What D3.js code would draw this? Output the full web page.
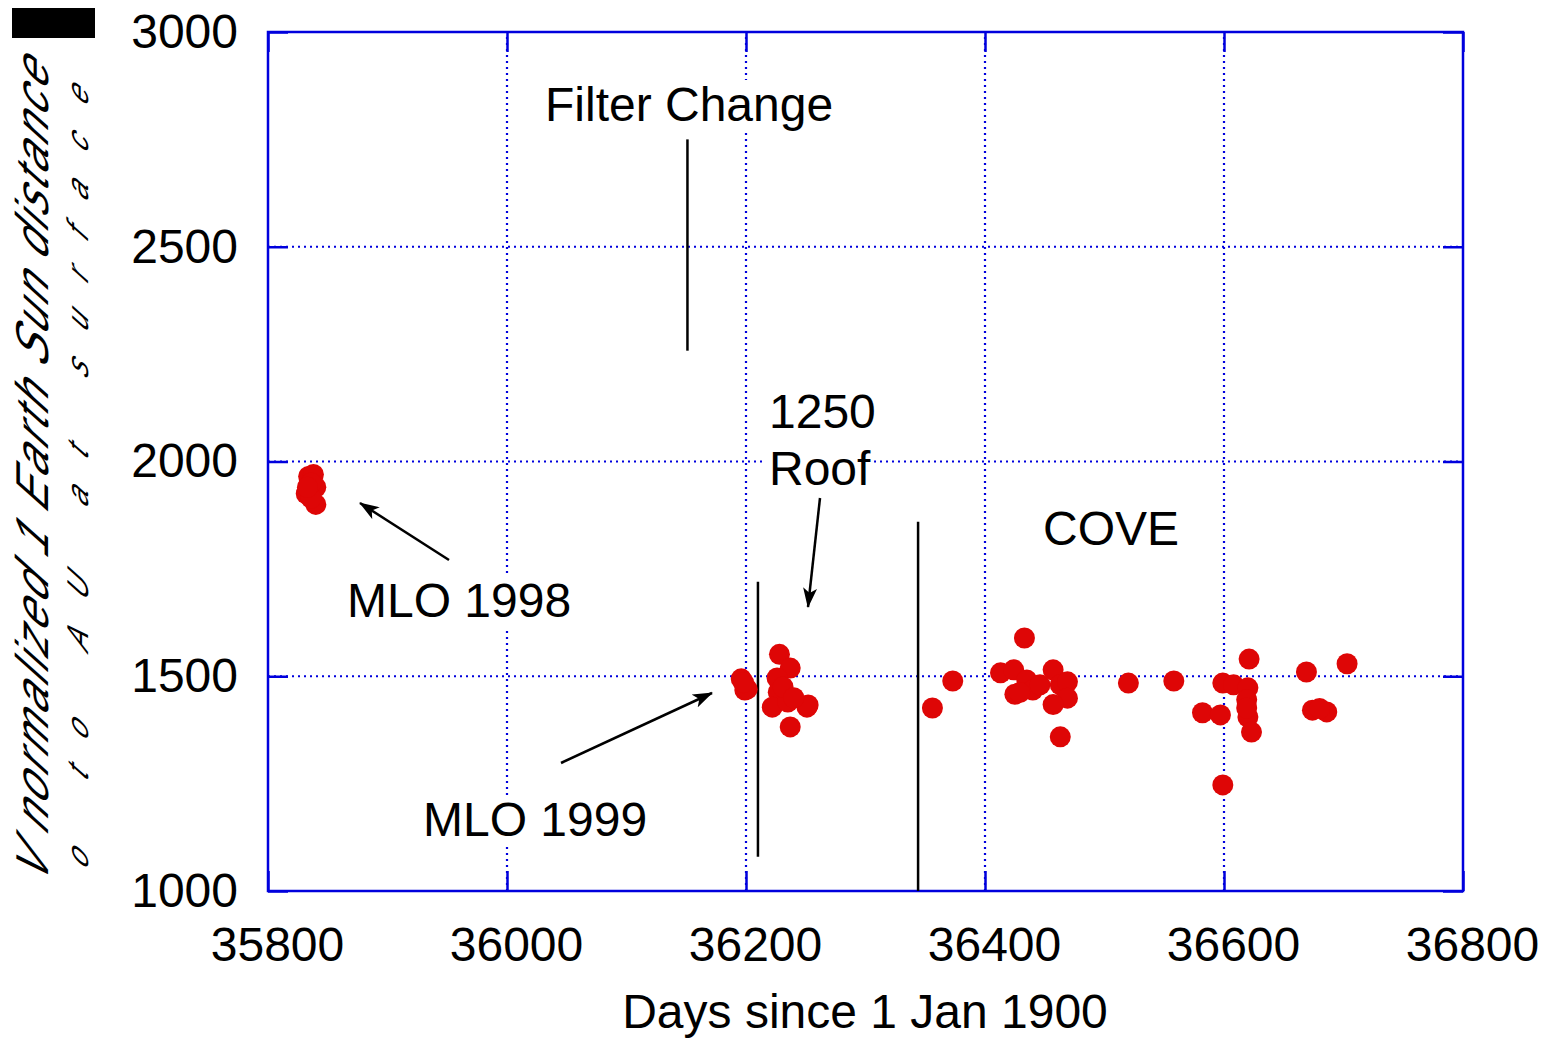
<!DOCTYPE html>
<html>
<head>
<meta charset="utf-8">
<script src="https://cdn.jsdelivr.net/npm/d3@7"></script>
<style>
  body { margin: 0; background: #fff; }
  text { font-family: "Liberation Sans", Arial, sans-serif; }
</style>
</head>
<body>
<svg id="chart"></svg>
<script>
// data
var xTicks = [35800, 36000, 36200, 36400, 36600, 36800];
var yTicks = [1000, 1500, 2000, 2500, 3000];

var mloDays1998 = [35834, 35838, 35832, 35840, 35840, 35836, 35836, 35833];
var mloVals1998 = [1965, 1970, 1925, 1940, 1900, 1915, 1950, 1940];

var mloDays1999 = [36196, 36199, 36201, 36198];
var mloVals1999 = [1494, 1468, 1470, 1485];

var roofDays = [36228, 36237, 36226, 36227, 36222, 36237, 36251, 36235, 36252, 36231, 36240];
var roofVals = [1551, 1519, 1496, 1463, 1428, 1382, 1428, 1440, 1433, 1475, 1450];

var coveDays = [36356, 36373, 36433, 36413, 36424, 36425, 36435, 36440, 36446, 36457, 36463,
                36469, 36469, 36457, 36463, 36429, 36520, 36558, 36621, 36599, 36608, 36620,
                36619, 36582, 36597, 36620, 36623, 36599, 36669, 36703, 36674, 36686, 36619, 36680];
var coveVals = [1426, 1489, 1589, 1508, 1515, 1458, 1491, 1468, 1480, 1515, 1480,
                1487, 1449, 1434, 1359, 1462, 1484, 1489, 1540, 1484, 1480, 1473,
                1445, 1415, 1410, 1405, 1370, 1247, 1510, 1529, 1421, 1417, 1426, 1425];

// event markers: [day, top value, bottom value]
var markerDays = [36151, 36210, 36344];
var markerTops = [2750, 1720, 1860];
var markerBots = [2258, 1080, 1000];

var width = 1551,
    height = 1039;
var margin = {left: 268, right: 88, top: 32, bottom: 148};

var svg = d3.select("#chart")
    .attr("width", width)
    .attr("height", height);

var x = d3.scaleLinear().domain([35800, 36800]).range([margin.left, width - margin.right]);
var y = d3.scaleLinear().domain([1000, 3000]).range([height - margin.bottom, margin.top]);

var blue = "#0000dd";
var fs = 48;

// grid
svg.append("g").selectAll("line.gx")
    .data(xTicks.slice(1, -1))
    .enter().append("line")
    .attr("x1", function(d){ return x(d); })
    .attr("x2", function(d){ return x(d); })
    .attr("y1", y(1000))
    .attr("y2", y(3000))
    .attr("stroke", blue)
    .attr("stroke-width", 2.2)
    .attr("stroke-dasharray", "2,4");

svg.append("g").selectAll("line.gy")
    .data(yTicks.slice(1, -1))
    .enter().append("line")
    .attr("x1", x(35800))
    .attr("x2", x(36800))
    .attr("y1", function(d){ return y(d); })
    .attr("y2", function(d){ return y(d); })
    .attr("stroke", blue)
    .attr("stroke-width", 2.2)
    .attr("stroke-dasharray", "2,4");

// labels (opaque, they hide the grid)
var labels = [
    ["Filter Change", 545, 121],
    ["1250", 769, 428],
    ["Roof", 769, 485],
    ["MLO 1998", 347, 617],
    ["MLO 1999", 423, 836],
    ["COVE", 1043, 545]
];
var lab = svg.append("g").selectAll("g.lb")
    .data(labels)
    .enter().append("g");
lab.append("text")
    .attr("x", function(d){ return d[1]; })
    .attr("y", function(d){ return d[2]; })
    .attr("font-size", fs)
    .attr("fill", "#000")
    .text(function(d){ return d[0]; });
lab.each(function(){
    var g = d3.select(this);
    var b = g.select("text").node().getBBox();
    g.insert("rect", "text")
        .attr("x", b.x - 3)
        .attr("y", b.y + 2)
        .attr("width", b.width + 6)
        .attr("height", b.height - 2)
        .attr("fill", "#fff");
});

// axes with inward ticks
function styleAxis(g){
    g.select(".domain").remove();
    g.selectAll(".tick line").attr("stroke", blue).attr("stroke-width", 2.5);
    g.selectAll(".tick text").attr("fill", "#000").attr("font-size", fs)
        .attr("font-family", "'Liberation Sans', Arial, sans-serif");
}

svg.append("g")
    .attr("transform", "translate(0," + y(1000) + ")")
    .call(d3.axisBottom(x).tickValues(xTicks).tickFormat(d3.format("d")).tickSizeInner(-20).tickPadding(36))
    .call(styleAxis)
    .selectAll(".tick text").attr("dx", 9);

svg.append("g")
    .attr("transform", "translate(0," + y(3000) + ")")
    .call(d3.axisTop(x).tickValues(xTicks).tickFormat("").tickSizeInner(-20))
    .call(styleAxis);

svg.append("g")
    .attr("transform", "translate(" + x(35800) + ",0)")
    .call(d3.axisLeft(y).tickValues(yTicks).tickFormat(d3.format("d")).tickSizeInner(-20).tickPadding(30))
    .call(styleAxis);

svg.append("g")
    .attr("transform", "translate(" + x(36800) + ",0)")
    .call(d3.axisRight(y).tickValues(yTicks).tickFormat("").tickSizeInner(-20))
    .call(styleAxis);

// frame
svg.append("rect")
    .attr("x", x(35800))
    .attr("y", y(3000))
    .attr("width", x(36800) - x(35800))
    .attr("height", y(1000) - y(3000))
    .attr("fill", "none")
    .attr("stroke", blue)
    .attr("stroke-width", 2.5);

// event lines
svg.append("g").selectAll("line.ev")
    .data(markerDays)
    .enter().append("line")
    .attr("x1", function(d){ return x(d); })
    .attr("x2", function(d){ return x(d); })
    .attr("y1", function(d, i){ return y(markerTops[i]); })
    .attr("y2", function(d, i){ return y(markerBots[i]); })
    .attr("stroke", "#000")
    .attr("stroke-width", 2.5);

// points
var pts = [];
[[mloDays1998, mloVals1998], [mloDays1999, mloVals1999], [roofDays, roofVals], [coveDays, coveVals]]
    .forEach(function(s){
        s[0].forEach(function(d, i){ pts.push({day: d, val: s[1][i]}); });
    });

svg.append("g").selectAll("circle")
    .data(pts)
    .enter().append("circle")
    .attr("cx", function(d){ return x(d.day); })
    .attr("cy", function(d){ return y(d.val); })
    .attr("r", 10.5)
    .attr("fill", "#de0606");

// arrows
var defs = svg.append("defs");
defs.append("marker")
    .attr("id", "ah")
    .attr("viewBox", "0 0 20 14")
    .attr("refX", 19)
    .attr("refY", 7)
    .attr("markerWidth", 20)
    .attr("markerHeight", 14)
    .attr("markerUnits", "userSpaceOnUse")
    .attr("orient", "auto")
    .append("path")
    .attr("d", "M0,0 L20,7 L0,14 L5,7 Z")
    .attr("fill", "#000");

var arrows = [
    [[449, 560], [360, 503]],
    [[561, 763], [712, 693]],
    [[820, 498], [808, 607]]
];
svg.append("g").selectAll("line.ar")
    .data(arrows)
    .enter().append("line")
    .attr("x1", function(d){ return d[0][0]; })
    .attr("y1", function(d){ return d[0][1]; })
    .attr("x2", function(d){ return d[1][0]; })
    .attr("y2", function(d){ return d[1][1]; })
    .attr("stroke", "#000")
    .attr("stroke-width", 2.5)
    .attr("marker-end", "url(#ah)");

// x title
svg.append("text")
    .attr("x", 865)
    .attr("y", 1028)
    .attr("text-anchor", "middle")
    .attr("font-size", fs)
    .text("Days since 1 Jan 1900");

// y title (scanned, distorted)
svg.append("rect")
    .attr("x", 12).attr("y", 8).attr("width", 83).attr("height", 30)
    .attr("fill", "#000");

svg.append("text")
    .attr("transform", "translate(48,885) rotate(-90) skewX(-35)")
    .attr("font-size", 46)
    .attr("font-style", "italic")
    .attr("textLength", 820)
    .attr("lengthAdjust", "spacing")
    .text("V  normalized 1 Earth Sun distance");
svg.append("text")
    .attr("transform", "translate(88,870) rotate(-90) skewX(-35)")
    .attr("font-size", 30)
    .attr("font-style", "italic")
    .attr("textLength", 780)
    .attr("lengthAdjust", "spacing")
    .text("o    to    AU  at     surface");
</script>
</body>
</html>
